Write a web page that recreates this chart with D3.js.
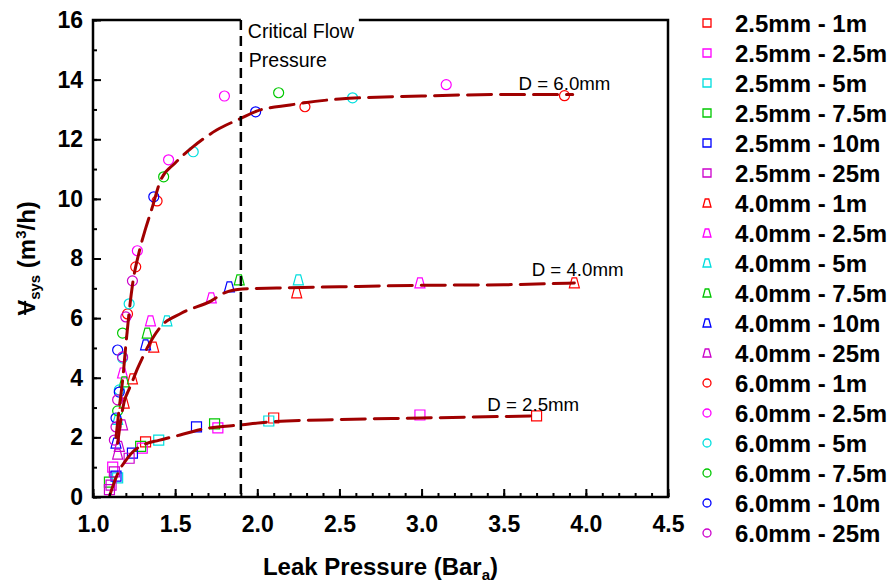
<!DOCTYPE html>
<html><head><meta charset="utf-8">
<script src="https://cdn.jsdelivr.net/npm/d3@7/dist/d3.min.js"></script>
<style>
html,body{margin:0;padding:0;background:#fff;}
svg{display:block;font-family:"Liberation Sans",Arial,sans-serif;}
</style></head>
<body>
<svg id="chart" width="896" height="583"></svg>
<script>
// ---------- data ----------
const seriesNames = ["2.5mm - 1m","2.5mm - 2.5m","2.5mm - 5m","2.5mm - 7.5m","2.5mm - 10m","2.5mm - 25m",
  "4.0mm - 1m","4.0mm - 2.5m","4.0mm - 5m","4.0mm - 7.5m","4.0mm - 10m","4.0mm - 25m",
  "6.0mm - 1m","6.0mm - 2.5m","6.0mm - 5m","6.0mm - 7.5m","6.0mm - 10m","6.0mm - 25m"];
const seriesShape = ["square","square","square","square","square","square",
  "triangle","triangle","triangle","triangle","triangle","triangle",
  "circle","circle","circle","circle","circle","circle"];
const seriesColor = ["#ff0000","#ff00ff","#00dede","#00c800","#0000ff","#cc00cc",
  "#ff0000","#ff00ff","#00dede","#00c800","#0000ff","#cc00cc",
  "#ff0000","#ff00ff","#00dede","#00c800","#0000ff","#cc00cc"];
const seriesX = [
  [1.32,2.10,3.70],
  [1.12,1.30,1.76,2.99],
  [1.15,1.40,2.07],
  [1.10,1.29,1.74],
  [1.14,1.24,1.63],
  [1.10,1.11,1.13,1.22],
  [1.19,1.24,1.37,2.24,3.93],
  [1.18,1.35,1.72,2.99],
  [1.15,1.45,2.25],
  [1.19,1.33,1.89],
  [1.14,1.32,1.83],
  [1.15,1.16,1.18],
  [1.21,1.26,1.39,2.29,3.87],
  [1.27,1.46,1.80,3.15],
  [1.16,1.18,1.22,1.61,2.58],
  [1.15,1.18,1.43,2.13],
  [1.14,1.15,1.16,1.37,1.99],
  [1.13,1.14,1.15,1.18,1.20,1.24]
];
const seriesY = [
  [1.85,2.65,2.72],
  [1.00,1.64,2.32,2.75],
  [0.64,1.91,2.55],
  [0.50,1.70,2.45],
  [0.70,1.47,2.35],
  [0.25,0.40,0.84,1.30],
  [3.15,3.96,5.03,6.85,7.18],
  [4.16,5.91,6.68,7.18],
  [2.60,5.91,7.28],
  [3.86,5.50,7.28],
  [1.81,5.10,7.05],
  [1.44,1.70,2.42],
  [6.14,7.72,9.93,13.09,13.46],
  [8.26,11.31,13.45,13.83],
  [3.59,4.66,6.48,11.58,13.39],
  [2.89,5.50,10.74,13.56],
  [2.65,4.93,3.52,10.07,12.92],
  [1.91,2.35,3.26,4.70,6.04,7.25]
];
const fit25X = [1.10,1.13,1.16,1.19,1.24,1.32,1.40,1.53,1.67,1.90,2.08,2.50,3.00,3.50,3.70];
const fit25Y = [0.02,0.50,0.90,1.15,1.50,1.78,1.90,2.08,2.28,2.42,2.52,2.60,2.65,2.70,2.72];
const fit40X = [1.15,1.17,1.19,1.21,1.23,1.27,1.30,1.33,1.41,1.54,1.72,1.80,1.91,2.20,2.50,3.00,3.50,3.93];
const fit40Y = [1.80,2.60,3.20,3.50,3.75,4.30,4.66,5.00,5.70,6.17,6.58,6.85,6.98,7.02,7.05,7.10,7.12,7.18];
const fit60X = [1.14,1.16,1.18,1.20,1.22,1.24,1.28,1.32,1.36,1.41,1.50,1.61,1.75,1.90,2.00,2.20,2.50,3.00,3.50,3.92];
const fit60Y = [2.00,3.00,3.90,5.10,6.20,7.10,8.20,9.00,9.70,10.60,11.20,11.75,12.30,12.70,12.95,13.15,13.35,13.45,13.50,13.50];
const fitLabels = ["D = 2.5mm","D = 4.0mm","D = 6.0mm"];
const fitLabelPos = [[3.40,2.90],[3.67,7.40],[3.59,13.66]];
const xTicks = [1.0,1.5,2.0,2.5,3.0,3.5,4.0,4.5];
const yTicks = [0,2,4,6,8,10,12,14,16];
const criticalX = 1.9;
const xTitle = "Leak Pressure (Bar";
const criticalText = ["Critical Flow","Pressure"];

// ---------- layout ----------
const svg = d3.select("#chart");
const L = 93, R = 668, T = 20, B = 497;
const x = d3.scaleLinear().domain([1,4.5]).range([L,R]);
const y = d3.scaleLinear().domain([0,16]).range([B,T]);

// markers
function shapePath(shape, s){
  if (shape==="square") return `M${-s},${-s}H${s}V${s}H${-s}Z`;
  if (shape==="triangle") return `M${-s*0.45},${-s}H${s*0.45}L${s},${s}H${-s}Z`;
  return d3.symbol().type(d3.symbolCircle).size(Math.PI*s*s)();
}
const gPts = svg.append("g");
seriesX.forEach((xs,i)=>{
  const pts = xs.map((v,j)=>[v, seriesY[i][j]]);
  gPts.selectAll(null).data(pts).enter().append("path")
    .attr("d", shapePath(seriesShape[i], 5))
    .attr("transform", d=>`translate(${x(d[0])},${y(d[1])})`)
    .attr("fill","none").attr("stroke",seriesColor[i]).attr("stroke-width",1.2);
});

// fit lines
const line = d3.line().x(d=>x(d[0])).y(d=>y(d[1])).curve(d3.curveMonotoneX);
[[fit25X,fit25Y],[fit40X,fit40Y],[fit60X,fit60Y]].forEach(([fx,fy])=>{
  svg.append("path").datum(fx.map((v,j)=>[v,fy[j]]))
    .attr("d", line).attr("fill","none").attr("stroke","#a00000")
    .attr("stroke-width",3).attr("stroke-dasharray","24,9").attr("stroke-linecap","round");
});

// fit labels
fitLabels.forEach((t,i)=>{
  svg.append("text").attr("x", x(fitLabelPos[i][0])).attr("y", y(fitLabelPos[i][1]))
    .attr("font-size",18.7).attr("fill","#000").text(t);
});

// frame
svg.append("rect").attr("x",L).attr("y",T).attr("width",R-L).attr("height",B-T)
  .attr("fill","none").attr("stroke","#000").attr("stroke-width",2.5);

// critical flow label box
svg.append("rect").attr("x",x(criticalX)).attr("y",8).attr("width",118).attr("height",68).attr("fill","#fff");
svg.append("line").attr("x1",x(criticalX)).attr("x2",x(criticalX)).attr("y1",T).attr("y2",B)
  .attr("stroke","#000").attr("stroke-width",2.5).attr("stroke-dasharray","10,6");
svg.append("text").attr("x",x(criticalX)+7).attr("y",38).attr("font-size",19.5).text(criticalText[0]);
svg.append("text").attr("x",x(criticalX)+8).attr("y",67).attr("font-size",19.5).text(criticalText[1]);

// axes
const xMinor = d3.range(10,46).map(v=>v/10);
const yMinor = d3.range(0,17);
const gx = svg.append("g").attr("transform",`translate(0,${B})`);
gx.call(d3.axisBottom(x).tickValues(xMinor).tickSize(-4).tickFormat(""));
const gx2 = svg.append("g").attr("transform",`translate(0,${B})`);
gx2.call(d3.axisBottom(x).tickValues(xTicks).tickSize(-8).tickPadding(19).tickFormat(d3.format(".1f")));
const gy = svg.append("g").attr("transform",`translate(${L},0)`);
gy.call(d3.axisLeft(y).tickValues(yMinor).tickSize(-4).tickFormat(""));
const gy2 = svg.append("g").attr("transform",`translate(${L},0)`);
gy2.call(d3.axisLeft(y).tickValues(yTicks).tickSize(-8).tickPadding(10).tickFormat(d3.format("d")));
[gx,gx2,gy,gy2].forEach(g=>{
  g.select(".domain").remove();
  g.selectAll(".tick line").attr("stroke","#000").attr("stroke-width",2);
  g.selectAll("text").attr("font-size",23).attr("font-weight","bold")
    .attr("font-family","'Liberation Sans',Arial,sans-serif").attr("fill","#000");
});

// axis titles
const xt = svg.append("text").attr("x",(L+R)/2).attr("y",575).attr("text-anchor","middle")
  .attr("font-size",24).attr("font-weight","bold");
xt.append("tspan").text(xTitle);
xt.append("tspan").attr("font-size",15).attr("dy",5).text("a");
xt.append("tspan").attr("dy",-5).text(")");

const gyt = svg.append("g").attr("transform",`translate(35,${(T+B)/2}) rotate(-90)`);
const yt = gyt.append("text").attr("x",0).attr("y",0).attr("text-anchor","middle")
  .attr("font-size",24).attr("font-weight","bold");
yt.append("tspan").text("V");
yt.append("tspan").attr("font-size",15).attr("dy",5).text("sys");
yt.append("tspan").attr("dy",-5).text(" (m");
yt.append("tspan").attr("font-size",15).attr("dy",-9).text("3");
yt.append("tspan").attr("dy",9).text("/h)");
try{
  const ext = yt.node().getExtentOfChar(0);
  gyt.append("line").attr("x1",ext.x+1).attr("x2",ext.x+ext.width-1)
    .attr("y1",ext.y+ext.height*0.45).attr("y2",ext.y+ext.height*0.45)
    .attr("stroke","#000").attr("stroke-width",2);
}catch(e){}

// legend
const lg = svg.append("g");
seriesNames.forEach((n,i)=>{
  const yy = 23 + 30*i;
  lg.append("path").attr("d", shapePath(seriesShape[i], 4))
    .attr("transform",`translate(707,${yy})`)
    .attr("fill","none").attr("stroke",seriesColor[i]).attr("stroke-width",1.3);
  lg.append("text").attr("x",735).attr("y",yy).attr("dy","0.36em")
    .attr("font-size",24).attr("font-weight","bold").text(n);
});
</script>
</body></html>
